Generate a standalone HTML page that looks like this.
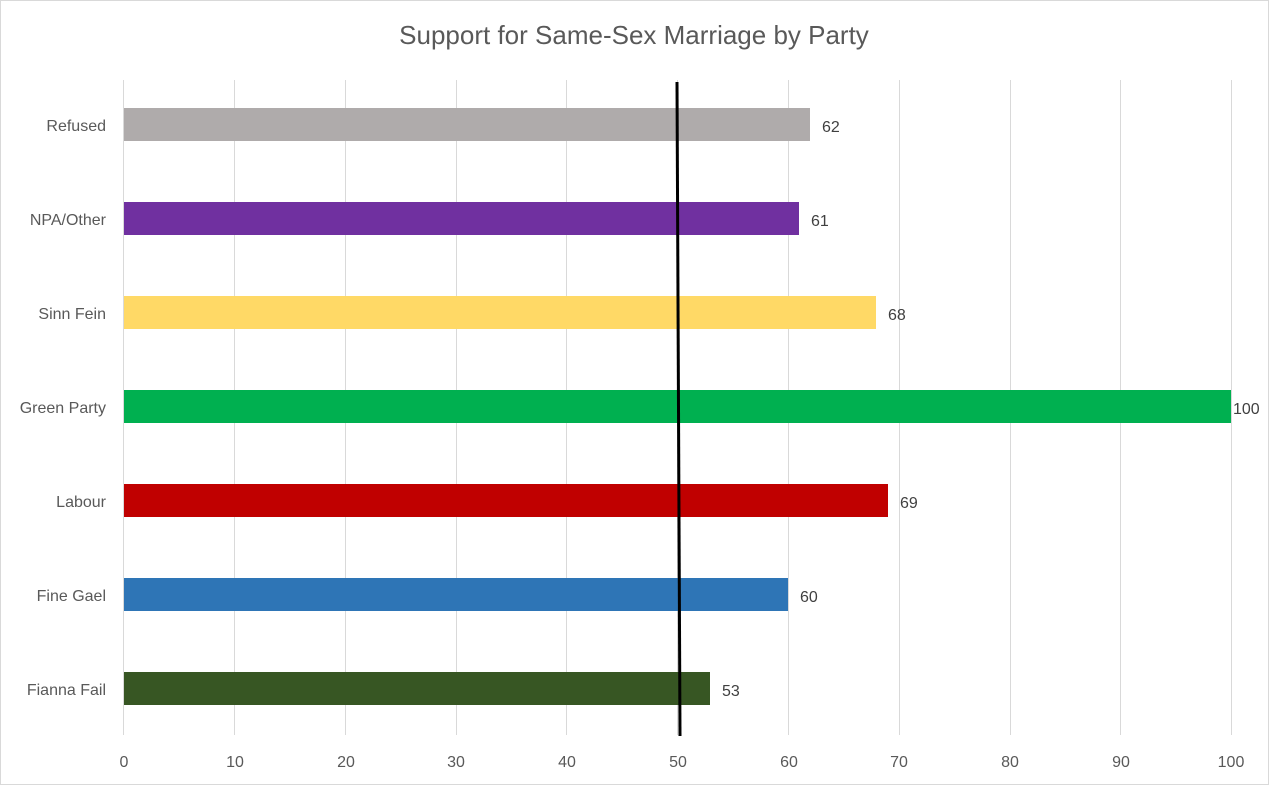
<!DOCTYPE html>
<html><head><style>
body{margin:0;background:#fff}
svg{display:block;font-family:"Liberation Sans",sans-serif}
</style></head><body>
<svg width="1269" height="785" viewBox="0 0 1269 785">
<rect x="0.5" y="0.5" width="1268" height="784" fill="#fff" stroke="#d9d9d9"/>
<text x="634" y="44" text-anchor="middle" font-size="26" fill="#595959">Support for Same-Sex Marriage by Party</text>
<g stroke="#d9d9d9" stroke-width="1">
<line x1="123.5" y1="80" x2="123.5" y2="735"/>
<line x1="234.5" y1="80" x2="234.5" y2="735"/>
<line x1="345.5" y1="80" x2="345.5" y2="735"/>
<line x1="456.5" y1="80" x2="456.5" y2="735"/>
<line x1="566.5" y1="80" x2="566.5" y2="735"/>
<line x1="677.5" y1="80" x2="677.5" y2="735"/>
<line x1="788.5" y1="80" x2="788.5" y2="735"/>
<line x1="899.5" y1="80" x2="899.5" y2="735"/>
<line x1="1010.5" y1="80" x2="1010.5" y2="735"/>
<line x1="1120.5" y1="80" x2="1120.5" y2="735"/>
<line x1="1231.5" y1="80" x2="1231.5" y2="735"/>
</g>
<rect x="124" y="108" width="686" height="33" fill="#afabab"/>
<rect x="124" y="202" width="675" height="33" fill="#7030a0"/>
<rect x="124" y="296" width="752" height="33" fill="#ffd966"/>
<rect x="124" y="390" width="1107" height="33" fill="#00b050"/>
<rect x="124" y="484" width="764" height="33" fill="#c00000"/>
<rect x="124" y="578" width="664" height="33" fill="#2e75b6"/>
<rect x="124" y="672" width="586" height="33" fill="#375623"/>
<g font-size="16" fill="#404040">
<text x="822" y="132">62</text>
<text x="811" y="226">61</text>
<text x="888" y="320">68</text>
<text x="1233" y="414">100</text>
<text x="900" y="508">69</text>
<text x="800" y="602">60</text>
<text x="722" y="696">53</text>
</g>
<g font-size="16" fill="#595959" text-anchor="end">
<text x="106" y="131">Refused</text>
<text x="106" y="225">NPA/Other</text>
<text x="106" y="319">Sinn Fein</text>
<text x="106" y="413">Green Party</text>
<text x="106" y="507">Labour</text>
<text x="106" y="601">Fine Gael</text>
<text x="106" y="695">Fianna Fail</text>
</g>
<g font-size="16" fill="#595959" text-anchor="middle">
<text x="124" y="767">0</text><text x="235" y="767">10</text><text x="346" y="767">20</text>
<text x="456" y="767">30</text><text x="567" y="767">40</text><text x="678" y="767">50</text>
<text x="789" y="767">60</text><text x="899" y="767">70</text><text x="1010" y="767">80</text>
<text x="1121" y="767">90</text><text x="1231" y="767">100</text>
</g>
<line x1="677" y1="82" x2="680" y2="736" stroke="#000" stroke-width="3"/>
</svg>
</body></html>
